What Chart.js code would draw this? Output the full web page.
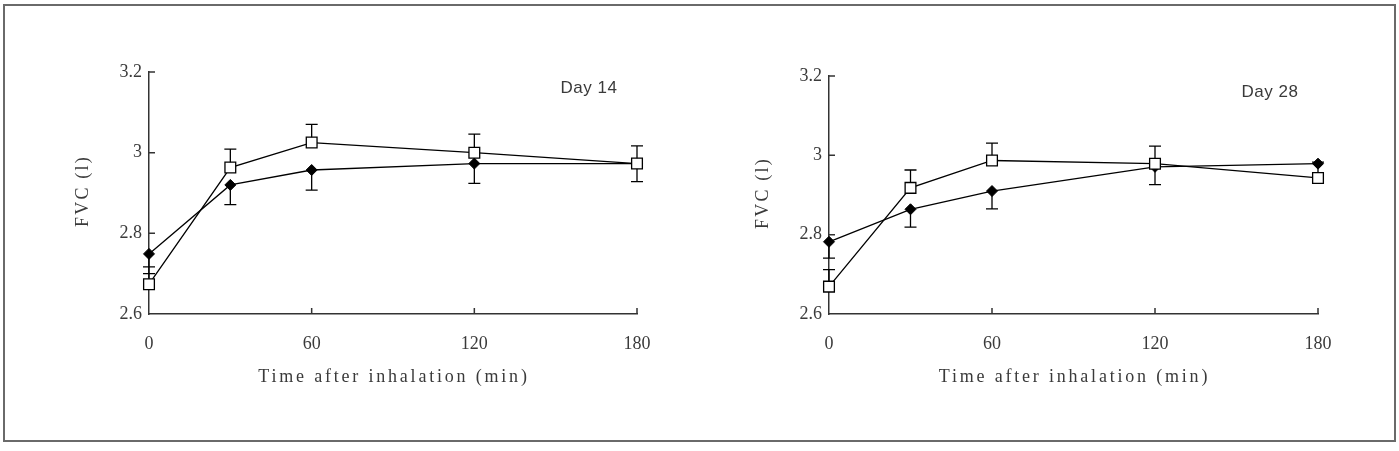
<!DOCTYPE html>
<html>
<head>
<meta charset="utf-8">
<script src="https://cdn.jsdelivr.net/npm/chart.js@4.4.0/dist/chart.umd.min.js"></script>
<style>
  body { margin: 0; background: #fff; }
  #frame { position: absolute; left: 3px; top: 4px; width: 1389px; height: 434px; border: 2px solid #6a6a6a; }
  .box { position: absolute; top: 0; height: 451px; }
</style>
</head>
<body>
<div id="frame"></div>
<div class="box" style="left:0;width:700px"><canvas id="day14"></canvas></div>
<div class="box" style="left:680px;width:719px"><canvas id="day28"></canvas></div>
<script>
// time points (min) and axis ticks
var xValues = [0, 30, 60, 120, 180];
var xTicks = [0, 60, 120, 180];
var yTicks = [2.6, 2.8, 3.0, 3.2];

// Day 14: filled diamonds (error drawn down), open squares (error drawn up)
var day14Diamond = [2.749, 2.920, 2.957, 2.973, 2.973];
var day14DiamondErr = [0.049, 0.049, 0.050, 0.049, 0.045];
var day14Square = [2.674, 2.963, 3.025, 3.000, 2.973];
var day14SquareErr = [0.043, 0.046, 0.045, 0.046, 0.044];

// Day 28
var day28Diamond = [2.782, 2.864, 2.910, 2.971, 2.979];
var day28DiamondErr = [0.041, 0.045, 0.045, 0.045, 0.044];
var day28Square = [2.669, 2.918, 2.987, 2.979, 2.943];
var day28SquareErr = [0.043, 0.045, 0.044, 0.044, 0.040];

var xTitle = 'Time after inhalation (min)';
var yTitle = 'FVC (l)';

var axisColor = '#333';
var textColor = '#3a3a3a';
var serif = '"Liberation Serif", "DejaVu Serif", serif';

function points(vals) {
  return xValues.map(function (x, i) { return { x: x, y: vals[i] }; });
}

// error bars, drawn under the markers
var errorBars = {
  id: 'errorBars',
  beforeDatasetsDraw: function (chart) {
    var ctx = chart.ctx, x = chart.scales.x, y = chart.scales.y;
    ctx.save();
    ctx.strokeStyle = '#000';
    ctx.lineWidth = 1.3;
    ctx.beginPath();
    chart.data.datasets.forEach(function (ds) {
      ds.data.forEach(function (p, i) {
        var px = x.getPixelForValue(p.x);
        var py0 = y.getPixelForValue(p.y);
        var py1 = y.getPixelForValue(p.y + ds.errDir * ds.err[i]);
        ctx.moveTo(px, py0); ctx.lineTo(px, py1);
        ctx.moveTo(px - 6, py1); ctx.lineTo(px + 6, py1);
      });
    });
    ctx.stroke();
    ctx.restore();
  }
};

// inward tick marks, axis titles and the day label
var decorations = {
  id: 'decorations',
  afterDraw: function (chart) {
    var ctx = chart.ctx, a = chart.chartArea, x = chart.scales.x, y = chart.scales.y;
    ctx.save();
    ctx.strokeStyle = axisColor;
    ctx.lineWidth = 1.5;
    ctx.beginPath();
    y.ticks.forEach(function (t) {
      if (t.value === yTicks[0]) return;
      var py = y.getPixelForValue(t.value);
      ctx.moveTo(a.left, py); ctx.lineTo(a.left + 6, py);
    });
    x.ticks.forEach(function (t) {
      if (t.value === xTicks[0]) return;
      var px = x.getPixelForValue(t.value);
      ctx.moveTo(px, a.bottom); ctx.lineTo(px, a.bottom - 6);
    });
    ctx.stroke();

    ctx.fillStyle = textColor;
    ctx.font = '18px ' + serif;
    ctx.letterSpacing = '2.8px';
    ctx.textAlign = 'center';
    ctx.textBaseline = 'middle';
    ctx.fillText(xTitle, (a.left + a.right) / 2 + 1, a.bottom + 63);
    ctx.save();
    ctx.translate(a.left - 66, (a.top + a.bottom) / 2 - 2);
    ctx.rotate(-Math.PI / 2);
    ctx.letterSpacing = '2.2px';
    ctx.fillText(yTitle, 0, 0);
    ctx.restore();

    ctx.letterSpacing = '0.5px';
    ctx.font = '17px "Liberation Sans", Arial, sans-serif';
    ctx.fillText(chart.options.dayLabel, a.right - 48, a.top + 16);
    ctx.restore();
  }
};

function makeChart(id, label, diamond, diamondErr, square, squareErr, padRight, padTop) {
  return new Chart(document.getElementById(id), {
    type: 'line',
    data: {
      datasets: [{
        data: points(square), err: squareErr, errDir: 1,
        borderColor: '#000', borderWidth: 1.3,
        pointStyle: 'rect', pointRadius: 7.6,
        pointBackgroundColor: '#fff', pointBorderColor: '#000', pointBorderWidth: 1.3,
        clip: false
      }, {
        data: points(diamond), err: diamondErr, errDir: -1,
        borderColor: '#000', borderWidth: 1.3,
        pointStyle: 'rectRot', pointRadius: 5.5,
        pointBackgroundColor: '#000', pointBorderColor: '#000', pointBorderWidth: 1,
        clip: false
      }]
    },
    options: {
      dayLabel: label,
      responsive: true,
      maintainAspectRatio: false,
      animation: false,
      layout: { padding: { left: 70, right: padRight, top: padTop, bottom: 0 } },
      plugins: { legend: { display: false }, tooltip: { enabled: false } },
      scales: {
        x: {
          type: 'linear', min: 0, max: 180,
          afterBuildTicks: function (s) { s.ticks = xTicks.map(function (v) { return { value: v }; }); },
          afterFit: function (s) { s.height = 137; },
          grid: { drawOnChartArea: false, drawTicks: false, color: axisColor },
          border: { color: axisColor, width: 1.5 },
          ticks: { color: textColor, padding: 19, font: { family: serif, size: 18 }, maxRotation: 0 }
        },
        y: {
          min: 2.6, max: 3.2,
          afterBuildTicks: function (s) { s.ticks = yTicks.map(function (v) { return { value: v }; }); },
          afterFit: function (s) { s.width = 79; },
          grid: { drawOnChartArea: false, drawTicks: false, color: axisColor },
          border: { color: axisColor, width: 1.5 },
          ticks: {
            color: textColor, padding: 7, font: { family: serif, size: 18 },
            callback: function (v) { return String(Number(v.toFixed(1))); }
          }
        }
      }
    },
    plugins: [errorBars, decorations]
  });
}

makeChart('day14', 'Day 14', day14Diamond, day14DiamondErr, day14Square, day14SquareErr, 63, 72);
makeChart('day28', 'Day 28', day28Diamond, day28DiamondErr, day28Square, day28SquareErr, 81, 76);
</script>
</body>
</html>
